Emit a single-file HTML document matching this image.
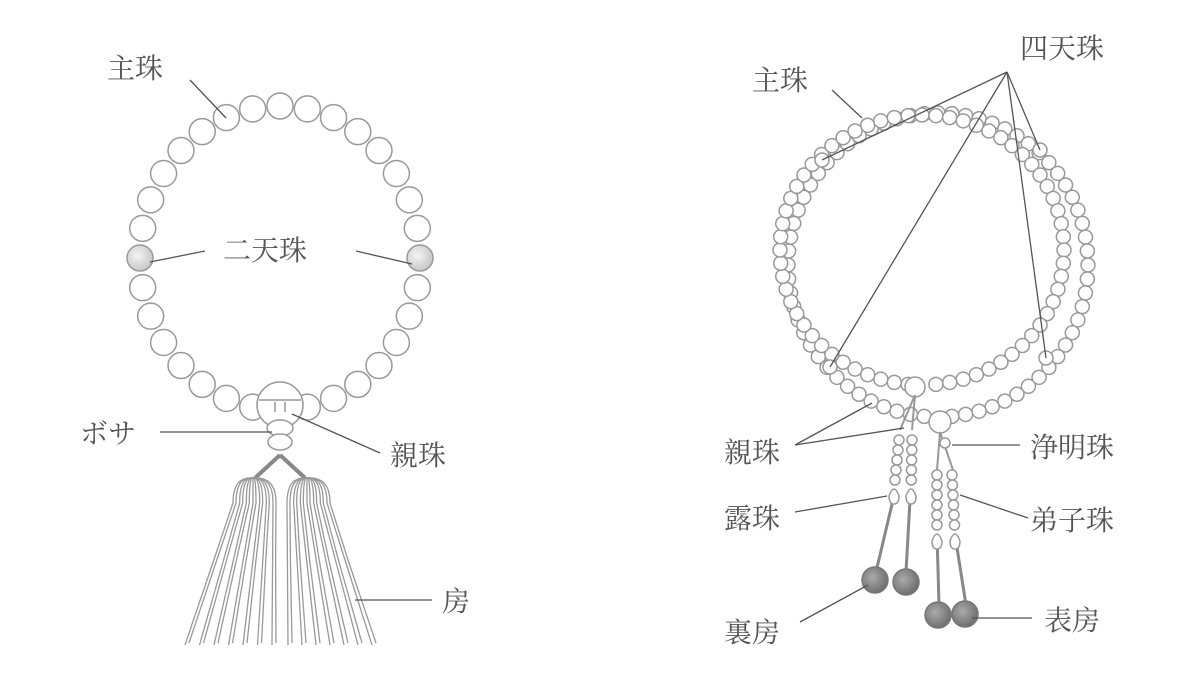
<!DOCTYPE html>
<html><head><meta charset="utf-8"><style>
html,body{margin:0;padding:0;background:#fff;}
svg text{font-family:"Liberation Serif","Noto Serif CJK SC","Noto Sans CJK JP",serif;font-size:28px;fill:#555;}
</style></head><body>
<svg id="s" width="1200" height="675" viewBox="0 0 1200 675" xmlns="http://www.w3.org/2000/svg">
<defs>
<radialGradient id="g1" cx="40%" cy="40%" r="60%"><stop offset="0" stop-color="#f4f4f4"/><stop offset="1" stop-color="#c8c8c8"/></radialGradient>
<radialGradient id="g2" cx="40%" cy="40%" r="60%"><stop offset="0" stop-color="#aaa"/><stop offset="1" stop-color="#707070"/></radialGradient>
</defs>
<g id="beads" fill="#fff" stroke="#999" stroke-width="1.5"></g>
<g id="lines" stroke="#555" stroke-width="1.3" fill="none">
<line x1="190" y1="80" x2="226" y2="118"/>
<line x1="205" y1="251" x2="150" y2="262"/>
<line x1="356" y1="251" x2="412" y2="264"/>
<line x1="160" y1="432" x2="272" y2="432"/>
<line x1="380" y1="453" x2="292" y2="414"/>
<line x1="432" y1="600" x2="355" y2="600"/>
<line x1="832" y1="90" x2="862" y2="118"/>
<line x1="1007" y1="72" x2="822" y2="160"/>
<line x1="1007" y1="72" x2="1040" y2="150"/>
<line x1="1007" y1="72" x2="1046" y2="358"/>
<line x1="1007" y1="72" x2="830" y2="367"/>
<line x1="795" y1="445" x2="872" y2="403"/>
<line x1="795" y1="445" x2="904" y2="428"/>
<line x1="1020" y1="445" x2="952" y2="445"/>
<line x1="795" y1="512" x2="887" y2="496"/>
<line x1="1028" y1="518" x2="960" y2="495"/>
<line x1="800" y1="622" x2="868" y2="585"/>
<line x1="1032" y1="618" x2="972" y2="618"/>
</g>
<text x="107" y="78">主珠</text>
<text x="223" y="260">二天珠</text>
<text x="80" y="443">ボサ</text>
<text x="390" y="465">親珠</text>
<text x="442" y="611">房</text>
<text x="752" y="90">主珠</text>
<text x="1020" y="58">四天珠</text>
<text x="724" y="462">親珠</text>
<text x="1030" y="457">浄明珠</text>
<text x="724" y="528">露珠</text>
<text x="1030" y="530">弟子珠</text>
<text x="724" y="642">裏房</text>
<text x="1044" y="630">表房</text>
</svg>
<script>
var NS="http://www.w3.org/2000/svg",B=document.getElementById('beads');
function el(t,a,p){var e=document.createElementNS(NS,t);for(var k in a)e.setAttribute(k,a[k]);(p||B).appendChild(e);return e;}
function c(x,y,r,f){return el('circle',{cx:x,cy:y,r:r,fill:f||'#fff'});}
var T=el('g',{stroke:'#999','stroke-width':'1.3',fill:'none'});
el('path',{d:'M280 455 L255 478 M280 455 L305 478',stroke:'#888','stroke-width':'4'},T);
function tassel(cx,top,x0,x1,n){for(var i=0;i<n;i++){var t=i/(n-1);var sx=cx-20+40*t;var ex=x0+(x1-x0)*t;
el('path',{d:'M'+(cx)+' '+top+' Q'+sx+' '+(top-2)+' '+sx+' '+(top+25)+' L'+(sx+(ex-sx)*0.4)+' 560 L'+ex+' 645'},T);
el('path',{d:'M'+(cx)+' '+top+' Q'+(sx+3)+' '+(top-2)+' '+(sx+3)+' '+(top+25)+' L'+(sx+3+(ex-sx)*0.4)+' 560 L'+(ex+4)+' 643'},T);}}
tassel(253,478,185,272,7);tassel(307,478,288,372,7);
var N=32;for(var i=0;i<N;i++){var a=Math.PI/2+i*2*Math.PI/N;if(i==0)continue;var x=280+140*Math.cos(a),y=258+152*Math.sin(a);
c(x,y,13,(i==8||i==24)?'url(#g1)':'#fff');}
c(280,405,23);el('line',{x1:259,y1:400,x2:301,y2:400});el('line',{x1:275,y1:402,x2:275,y2:412});el('line',{x1:285,y1:402,x2:285,y2:412});
el('ellipse',{cx:280,cy:428,rx:13,ry:8});el('ellipse',{cx:280,cy:442,rx:12,ry:8});
function ring(cx,cy,rx,ry,n,skip){for(var i=0;i<n;i++){if(i<skip||i>n-skip)continue;var a=Math.PI/2+i*2*Math.PI/n;c(cx+rx*Math.cos(a),cy+ry*Math.sin(a),7);}}
ring(938,265,150,152,68,1);
ring(922,250,142,135,64,1);
[[822,160],[1040,150],[1046,358],[830,367]].forEach(function(p){c(p[0],p[1],7);});
c(915,387,10);c(940,422,11);
var L=el('g',{stroke:'#888','stroke-width':'3'});
[[893,500,876,572],[910,500,906,572],[937,535,939,605],[955,535,966,605]].forEach(function(p){el('line',{x1:p[0],y1:p[1],x2:p[2],y2:p[3]},L);});
el('path',{d:'M915 395 L900 430 M915 395 L912 430 M940 432 L937 470 M940 432 L953 470',stroke:'#999','stroke-width':'2',fill:'none'});
function str(x0,x1,y0,n){for(var i=0;i<n;i++){c(x0+(x1-x0)*i/n,y0+i*10,5);}el('path',{d:'M'+(x1-5)+' '+(y0+n*10+6)+' q5 -14 10 0 q0 8 -5 8 q-5 0 -5 -8z'});}
str(899,894,440,5);str(912,911,440,5);str(937,937,475,6);str(952,955,475,6);
c(945,443,5);
[[875,580],[906,582],[938,615],[965,614]].forEach(function(p){el('circle',{cx:p[0],cy:p[1],r:13,fill:'url(#g2)',stroke:'#777'});});
</script>
</body></html>
